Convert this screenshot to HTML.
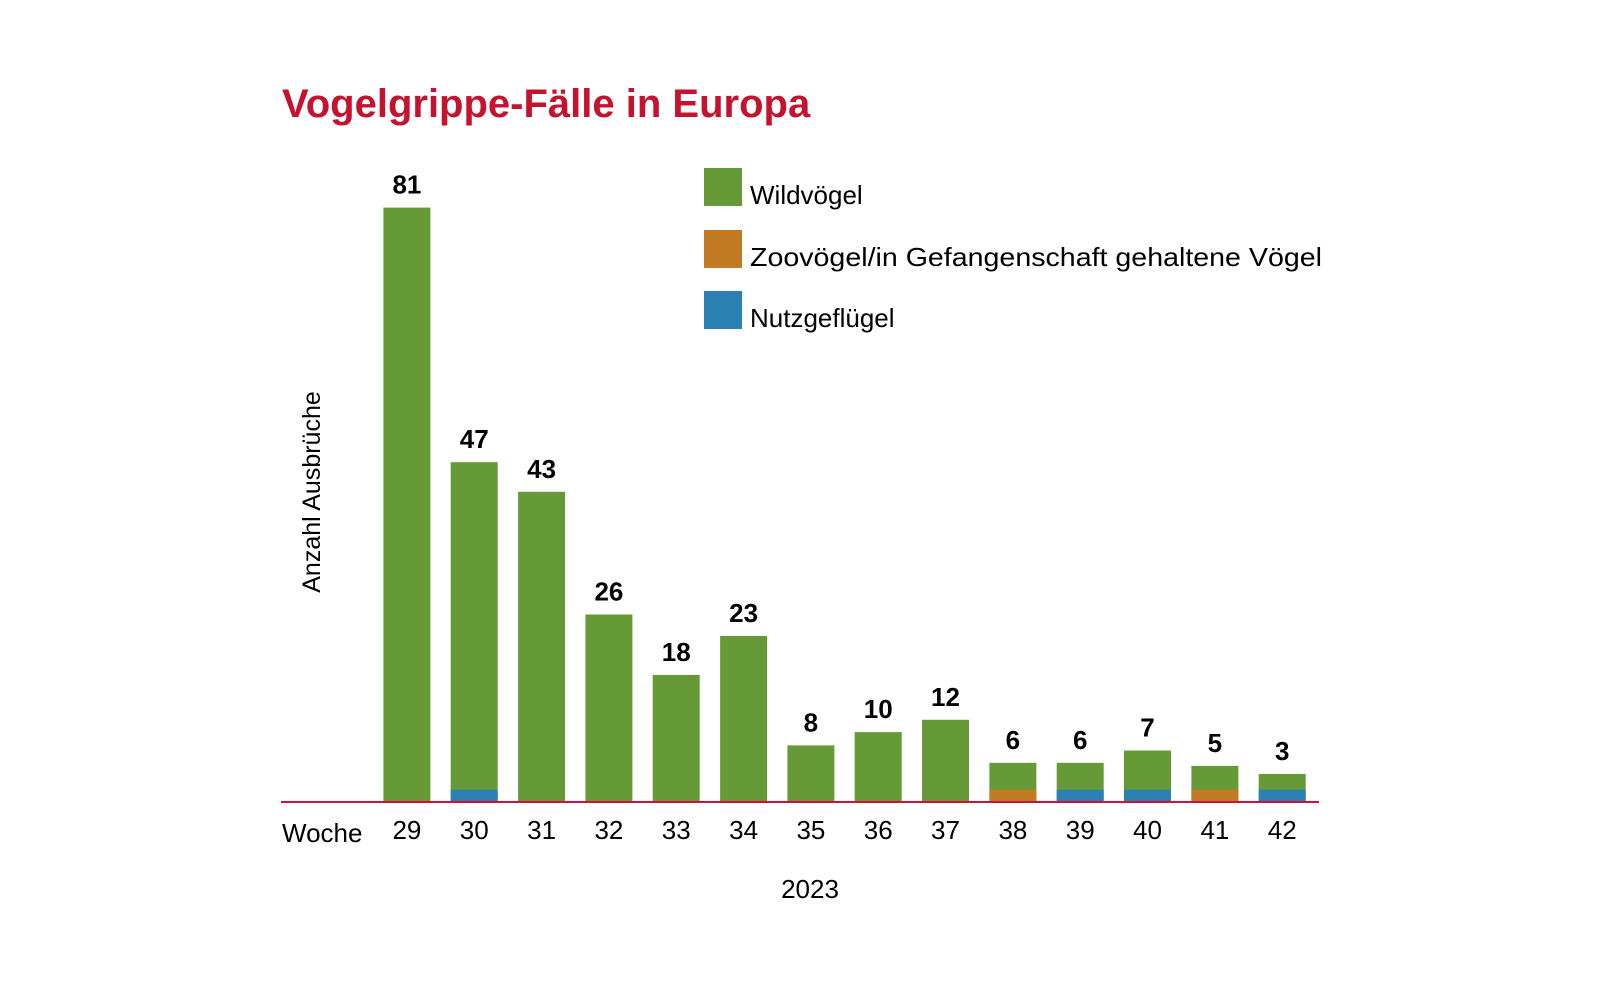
<!DOCTYPE html>
<html><head><meta charset="utf-8"><style>
html,body{margin:0;padding:0;background:#fff;}
body{width:1600px;height:984px;overflow:hidden;position:relative;}
</style></head><body>
<svg width="1600" height="984" viewBox="0 0 1600 984" xmlns="http://www.w3.org/2000/svg" font-family="Liberation Sans, sans-serif">
<text x="282" y="117" font-size="40" font-weight="bold" fill="#c4122f">Vogelgrippe-Fälle in Europa</text>
<rect x="704" y="168" width="38" height="38" fill="#659a37"/>
<rect x="704" y="230" width="38" height="38" fill="#c27b22"/>
<rect x="704" y="291" width="38" height="38" fill="#2a80b3"/>
<g font-size="26" fill="#000">
<text x="750" y="204">Wildvögel</text>
<text x="750" y="266" textLength="572" lengthAdjust="spacingAndGlyphs">Zoovögel/in Gefangenschaft gehaltene Vögel</text>
<text x="750" y="327">Nutzgeflügel</text>
</g>
<text transform="translate(320,492) rotate(-90)" text-anchor="middle" font-size="25">Anzahl Ausbrüche</text>
<g fill="#659a37">
<rect x="383.4" y="207.6" width="47" height="594.4"/>
<rect x="450.7" y="462.2" width="47" height="339.8"/>
<rect x="518.1" y="491.8" width="47" height="310.2"/>
<rect x="585.4" y="614.5" width="47" height="187.5"/>
<rect x="652.7" y="674.9" width="47" height="127.1"/>
<rect x="720.1" y="636.0" width="47" height="166"/>
<rect x="787.4" y="745.4" width="47" height="56.6"/>
<rect x="854.7" y="732.1" width="47" height="69.9"/>
<rect x="922.0" y="719.8" width="47" height="82.2"/>
<rect x="989.4" y="762.8" width="47" height="39.2"/>
<rect x="1056.7" y="762.8" width="47" height="39.2"/>
<rect x="1124.0" y="750.5" width="47" height="51.5"/>
<rect x="1191.4" y="765.9" width="47" height="36.1"/>
<rect x="1258.7" y="774.0" width="47" height="28"/>
</g>
<g>
<rect x="450.7" y="789.7" width="47" height="12.3" fill="#2a80b3"/>
<rect x="989.4" y="789.7" width="47" height="12.3" fill="#c27b22"/>
<rect x="1056.7" y="789.7" width="47" height="12.3" fill="#2a80b3"/>
<rect x="1124.0" y="789.7" width="47" height="12.3" fill="#2a80b3"/>
<rect x="1191.4" y="789.7" width="47" height="12.3" fill="#c27b22"/>
<rect x="1258.7" y="789.7" width="47" height="12.3" fill="#2a80b3"/>
</g>
<g font-size="26" font-weight="bold" text-anchor="middle" fill="#000">
<text x="406.9" y="193.6">81</text>
<text x="474.2" y="448.2">47</text>
<text x="541.6" y="477.8">43</text>
<text x="608.9" y="600.5">26</text>
<text x="676.2" y="660.9">18</text>
<text x="743.6" y="622.0">23</text>
<text x="810.9" y="731.4">8</text>
<text x="878.2" y="718.1">10</text>
<text x="945.5" y="705.8">12</text>
<text x="1012.9" y="748.8">6</text>
<text x="1080.2" y="748.8">6</text>
<text x="1147.5" y="736.5">7</text>
<text x="1214.9" y="751.9">5</text>
<text x="1282.2" y="760.0">3</text>
</g>
<line x1="281" y1="802" x2="1319" y2="802" stroke="#d0103a" stroke-width="2"/>
<g font-size="26" text-anchor="middle" fill="#000">
<text x="406.9" y="839">29</text>
<text x="474.2" y="839">30</text>
<text x="541.6" y="839">31</text>
<text x="608.9" y="839">32</text>
<text x="676.2" y="839">33</text>
<text x="743.6" y="839">34</text>
<text x="810.9" y="839">35</text>
<text x="878.2" y="839">36</text>
<text x="945.5" y="839">37</text>
<text x="1012.9" y="839">38</text>
<text x="1080.2" y="839">39</text>
<text x="1147.5" y="839">40</text>
<text x="1214.9" y="839">41</text>
<text x="1282.2" y="839">42</text>
</g>
<text x="282" y="842" font-size="26">Woche</text>
<text x="810" y="898" font-size="26" text-anchor="middle">2023</text>
</svg>
</body></html>
